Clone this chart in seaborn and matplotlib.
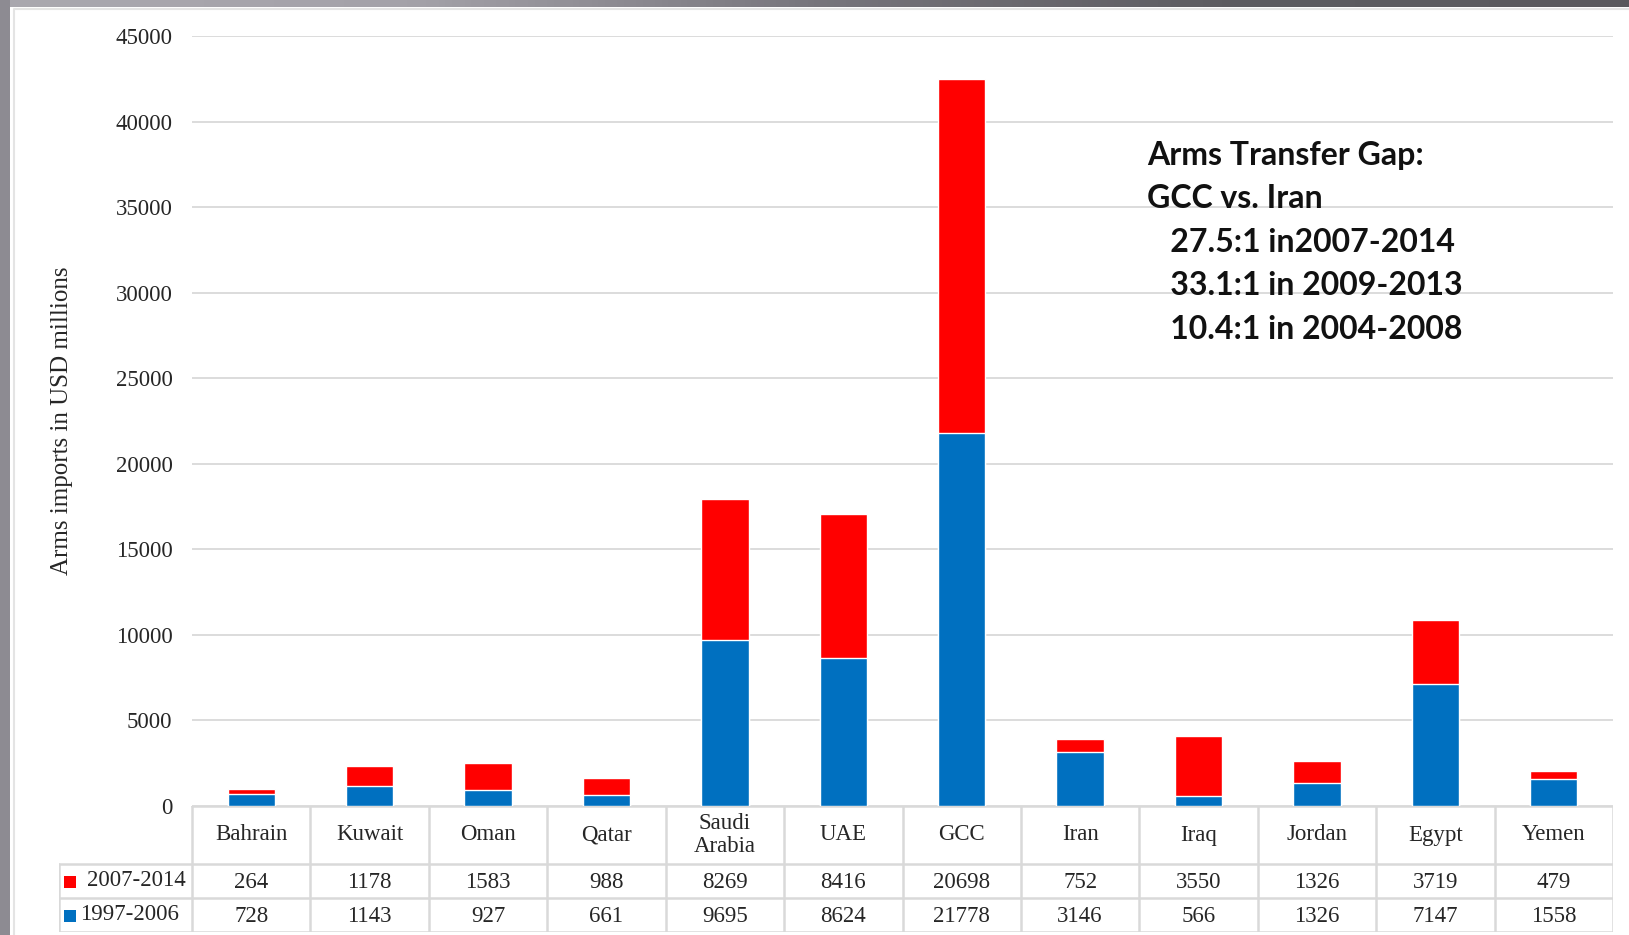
import numpy as np
import pandas as pd
import matplotlib
matplotlib.use("Agg")
import matplotlib.pyplot as plt
import seaborn as sns
from matplotlib.patches import Rectangle
from matplotlib.colors import LinearSegmentedColormap

# data
countries = ["Bahrain", "Kuwait", "Oman", "Qatar", "Saudi\nArabia", "UAE", "GCC",
             "Iran", "Iraq", "Jordan", "Egypt", "Yemen"]
imports_2007_2014 = [264, 1178, 1583, 988, 8269, 8416, 20698, 752, 3550, 1326, 3719, 479]
imports_1997_2006 = [728, 1143, 927, 661, 9695, 8624, 21778, 3146, 566, 1326, 7147, 1558]
series_names = ["2007-2014", "1997-2006"]
y_ticks = [0, 5000, 10000, 15000, 20000, 25000, 30000, 35000, 40000, 45000]
note_lines = ["Arms Transfer Gap:", "GCC vs. Iran", "   27.5:1 in2007-2014",
              "   33.1:1 in 2009-2013", "   10.4:1 in 2004-2008"]

red = "#FF0000"
blue = "#0070C0"
grid_col = "#d9d9d9"

df = pd.DataFrame({"country": countries,
                   "late": imports_2007_2014,
                   "early": imports_1997_2006})
df["total"] = df["late"] + df["early"]

sns.set_style("white")
plt.rcParams["font.family"] = ["Liberation Serif", "DejaVu Serif"]

W, H = 1629, 935
fig = plt.figure(figsize=(W / 100, H / 100), dpi=100)

def px(x0, y0, x1, y1):
    # pixel box (top-left origin) -> figure fraction rect
    return [x0 / W, 1 - y1 / H, (x1 - x0) / W, (y1 - y0) / H]

# screenshot frame (gray gradient band on top, gray band on left)
frame = fig.add_axes([0, 0, 1, 1])
frame.set_xlim(0, W)
frame.set_ylim(H, 0)
frame.axis("off")
band_cmap = LinearSegmentedColormap.from_list(
    "band", ["#aaa8af", "#a4a2a9", "#77757c", "#5d5c61", "#5a595e"])
frame.imshow(np.linspace(0, 1, 256)[None, :], cmap=band_cmap, aspect="auto",
             extent=(0, W, 7, 0), zorder=1)
frame.add_patch(Rectangle((0, 0), 10, H, color="#8d8b92", lw=0, zorder=2))
frame.plot([14, 14, W], [H, 9, 9], color="#e4e4e4", lw=1.5)
frame.set_xlim(0, W)
frame.set_ylim(H, 0)

# main chart
plot_left, plot_right, plot_top, plot_bottom = 192, 1613, 36, 806
ax = fig.add_axes(px(plot_left, plot_top, plot_right, plot_bottom))
sns.barplot(data=df, x="country", y="total", color=red, width=0.4,
            saturation=1, ax=ax)
sns.barplot(data=df, x="country", y="early", color=blue, width=0.4,
            saturation=1, ax=ax)
ax.set_xlim(-0.5, len(countries) - 0.5)
ax.set_ylim(0, 45000)
ax.set_yticks(y_ticks)
ax.set_yticklabels([str(t) for t in y_ticks], fontsize=16.5)
ax.tick_params(axis="y", length=0, pad=14)
ax.set_xticks([])
ax.set_xlabel("")
ax.set_ylabel("Arms imports in USD millions", fontsize=18)
ax.yaxis.set_label_coords((73 - plot_left) / (plot_right - plot_left), 0.5)
ax.grid(axis="y", color=grid_col, lw=1.3)
ax.set_axisbelow(True)
for s in ax.spines.values():
    s.set_visible(False)

for i, line in enumerate(note_lines):
    ax.text(1147, 155 + i * 43.6, line, transform=frame.transData,
            fontsize=23, fontweight="bold", family="Lato",
            ha="left", va="center", color="#111111")

# data table under the chart
label_w = 133
col_w = (plot_right - plot_left) / len(countries)
tab = fig.add_axes(px(plot_left - label_w, 806, plot_right, 932))
x_lo = -0.5 - label_w / col_w
tab.set_xlim(x_lo, len(countries) - 0.5)
tab.set_ylim(126, 0)
tab.axis("off")

row_y = [0, 58, 92, 126]
lw = 1.8
tab.plot([-0.5, len(countries) - 0.5], [0, 0], color=grid_col, lw=lw)
for y in row_y[1:]:
    tab.plot([x_lo, len(countries) - 0.5], [y, y], color=grid_col, lw=lw)
tab.plot([x_lo, x_lo], [58, 126], color=grid_col, lw=lw)
for k in range(len(countries) + 1):
    xv = -0.5 + k
    tab.plot([xv, xv], [0, 126], color=grid_col, lw=lw)

fs = 16.5
for i, c in enumerate(countries):
    tab.text(i, 29, c, ha="center", va="center", fontsize=fs,
             linespacing=1.1)
    tab.text(i, 76, str(imports_2007_2014[i]), ha="center", va="center", fontsize=fs)
    tab.text(i, 110, str(imports_1997_2006[i]), ha="center", va="center", fontsize=fs)

# row labels with legend keys
tab.plot([x_lo + 0.09], [76], marker="s", ms=8, color=red, mew=0)
tab.text(x_lo + 0.235, 75, series_names[0], ha="left", va="center", fontsize=fs)
tab.plot([x_lo + 0.09], [110], marker="s", ms=8, color=blue, mew=0)
tab.text(x_lo + 0.18, 109, series_names[1], ha="left", va="center", fontsize=fs)

fig.savefig("out.png", dpi=100)
